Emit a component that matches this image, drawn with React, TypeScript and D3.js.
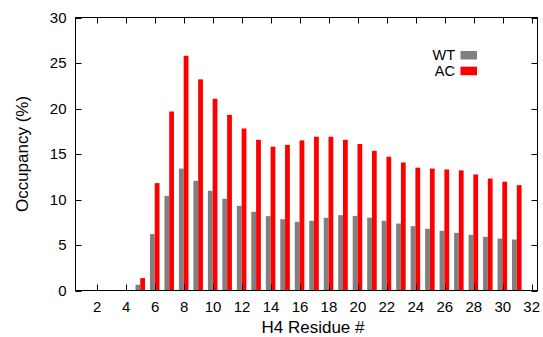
import React from "react";
import * as d3 from "d3";

const residues = Array.from({ length: 31 }, (_, i) => i + 1);
const wtValues = [0, 0, 0, 0, 0.63, 6.2, 10.4, 13.4, 12.05, 10.96, 10.08, 9.3, 8.65, 8.17, 7.84, 7.55, 7.66, 7.99, 8.28, 8.2, 8.0, 7.66, 7.36, 7.07, 6.78, 6.56, 6.34, 6.12, 5.9, 5.71, 5.6];
const acValues = [0, 0, 0, 0, 1.36, 11.8, 19.67, 25.8, 23.2, 21.07, 19.3, 17.8, 16.56, 15.8, 16.0, 16.5, 16.9, 16.9, 16.56, 16.1, 15.35, 14.7, 14.07, 13.5, 13.4, 13.3, 13.2, 12.75, 12.3, 11.95, 11.58];
const xTicks = [2, 4, 6, 8, 10, 12, 14, 16, 18, 20, 22, 24, 26, 28, 30, 32];
const yTicks = [0, 5, 10, 15, 20, 25, 30];
const seriesNames = ["WT", "AC"];
const seriesColors = ["#808080", "#ff0000"];

export default function App() {
  const W = 543, H = 337;
  const left = 75.5, right = 537.5, top = 17.5, bottom = 290.5;
  const x = d3.scaleLinear().domain([0.5, 32.4]).range([left, right]);
  const y = d3.scaleLinear().domain([0, 30]).range([bottom, top]);
  const font = "'Liberation Sans', Arial, Helvetica, sans-serif";
  const bw = 0.33;
  const off = -0.03;
  const tl = 6;

  return (
    <svg width={W} height={H} style={{ position: "absolute", left: 0, top: 0, background: "#fff" }} fontFamily={font}>
      <rect x={0} y={0} width={W} height={H} fill="#fff" />
      {residues.map((r, i) => (
        <g key={r}>
          {wtValues[i] > 0 && (
            <rect x={x(r + off - bw)} y={y(wtValues[i])} width={x(r + off) - x(r + off - bw)} height={y(0) - y(wtValues[i])} fill={seriesColors[0]} />
          )}
          {acValues[i] > 0 && (
            <rect x={x(r + off)} y={y(acValues[i])} width={x(r + off + bw) - x(r + off)} height={y(0) - y(acValues[i])} fill={seriesColors[1]} />
          )}
        </g>
      ))}
      <rect x={left} y={top} width={right - left} height={bottom - top} fill="none" stroke="#000" strokeWidth={1} />
      {xTicks.map((t) => (
        <g key={"x" + t}>
          <line x1={Math.round(x(t)) + 0.5} x2={Math.round(x(t)) + 0.5} y1={bottom} y2={bottom - tl} stroke="#000" />
          <line x1={Math.round(x(t)) + 0.5} x2={Math.round(x(t)) + 0.5} y1={top} y2={top + tl} stroke="#000" />
          <text x={x(t)} y={312} textAnchor="middle" fontSize={15} fill="#000">{t}</text>
        </g>
      ))}
      {yTicks.map((t) => (
        <g key={"y" + t}>
          <line x1={left} x2={left + tl} y1={Math.round(y(t)) + 0.5} y2={Math.round(y(t)) + 0.5} stroke="#000" />
          <line x1={right} x2={right - tl} y1={Math.round(y(t)) + 0.5} y2={Math.round(y(t)) + 0.5} stroke="#000" />
          <text x={66.5} y={y(t) + 5.3} textAnchor="end" fontSize={15} fill="#000">{t}</text>
        </g>
      ))}
      <text x={313} y={333} textAnchor="middle" fontSize={17} fill="#000">H4 Residue #</text>
      <text transform={`translate(27.5,${(top + bottom) / 2}) rotate(-90)`} textAnchor="middle" fontSize={17} fill="#000">Occupancy (%)</text>
      {seriesNames.map((s, i) => (
        <g key={s}>
          <text x={455} y={59.5 + i * 16.3} textAnchor="end" fontSize={14.5} fill="#000">{s}</text>
          <rect x={460.5} y={51 + i * 15.7} width={16.5} height={8.5} fill={seriesColors[i]} />
        </g>
      ))}
    </svg>
  );
}
